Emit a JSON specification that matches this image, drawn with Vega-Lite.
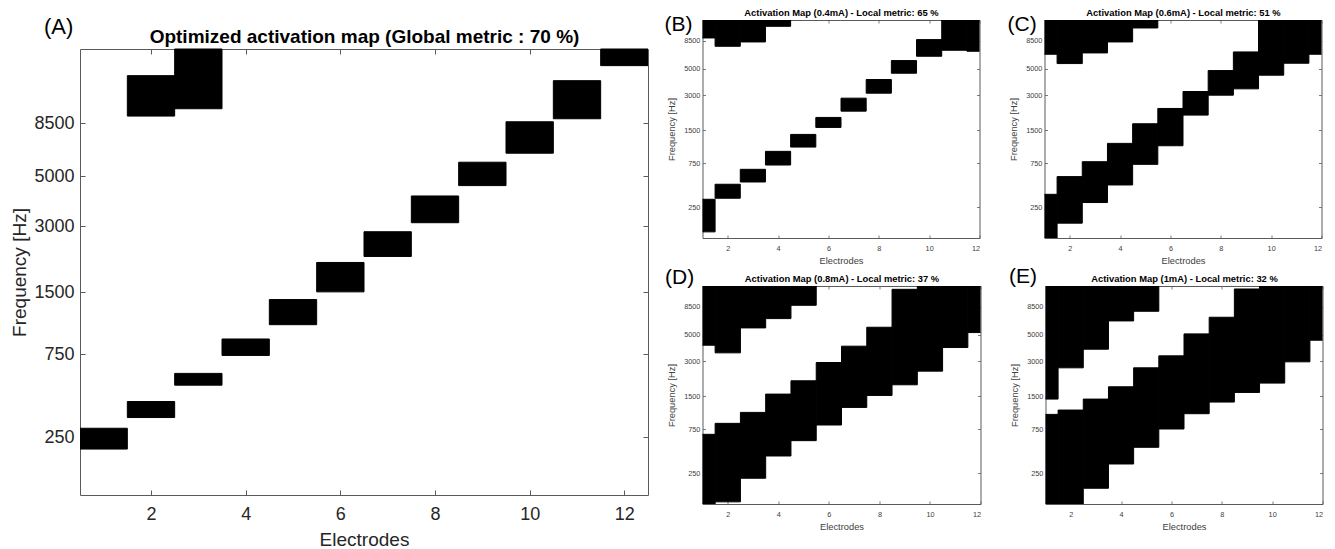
{
  "$schema": "https://vega.github.io/schema/vega-lite/v6.json",
  "background": "white",
  "padding": {"left": 10, "top": 7, "right": 5, "bottom": 0},
  "config": {
    "font": "Liberation Sans",
    "view": {"stroke": "#5a5a5a", "strokeWidth": 1},
    "axis": {"domain": false, "grid": false, "ticks": true, "tickColor": "#5a5a5a", "tickWidth": 1, "labelColor": "#262626", "titleColor": "#262626", "titleFontWeight": "normal", "labelFont": "Liberation Sans", "titleFont": "Liberation Sans", "zindex": 1},
    "title": {"font": "Liberation Sans", "fontWeight": "normal", "color": "#000000", "anchor": "start", "frame": "group", "offset": 0, "baseline": "alphabetic"}
  },
  "datasets": {
    "A": [
      {"electrode": 1, "eStart": 0.5, "eEnd": 1.5, "fLow": 207, "fHigh": 287, "zone": "diagonal"},
      {"electrode": 2, "eStart": 1.5, "eEnd": 2.5, "fLow": 335, "fHigh": 417, "zone": "diagonal"},
      {"electrode": 3, "eStart": 2.5, "eEnd": 3.5, "fLow": 515, "fHigh": 596, "zone": "diagonal"},
      {"electrode": 4, "eStart": 3.5, "eEnd": 4.5, "fLow": 739, "fHigh": 894, "zone": "diagonal"},
      {"electrode": 5, "eStart": 4.5, "eEnd": 5.5, "fLow": 1051, "fHigh": 1386, "zone": "diagonal"},
      {"electrode": 6, "eStart": 5.5, "eEnd": 6.5, "fLow": 1506, "fHigh": 2059, "zone": "diagonal"},
      {"electrode": 7, "eStart": 6.5, "eEnd": 7.5, "fLow": 2193, "fHigh": 2836, "zone": "diagonal"},
      {"electrode": 8, "eStart": 7.5, "eEnd": 8.5, "fLow": 3112, "fHigh": 4091, "zone": "diagonal"},
      {"electrode": 9, "eStart": 8.5, "eEnd": 9.5, "fLow": 4545, "fHigh": 5756, "zone": "diagonal"},
      {"electrode": 10, "eStart": 9.5, "eEnd": 10.5, "fLow": 6303, "fHigh": 8634, "zone": "diagonal"},
      {"electrode": 11, "eStart": 10.5, "eEnd": 11.5, "fLow": 8898, "fHigh": 13003, "zone": "diagonal"},
      {"electrode": 12, "eStart": 11.5, "eEnd": 12.5, "fLow": 15096, "fHigh": 17800, "zone": "diagonal"},
      {"electrode": 2, "eStart": 1.5, "eEnd": 2.5, "fLow": 9139, "fHigh": 13667, "zone": "wrap"},
      {"electrode": 3, "eStart": 2.5, "eEnd": 3.5, "fLow": 9834, "fHigh": 17800, "zone": "wrap"}
    ],
    "B": [
      {"electrode": 1, "eStart": 0.5, "eEnd": 1.5, "fLow": 106, "fHigh": 314, "zone": "diagonal"},
      {"electrode": 2, "eStart": 1.5, "eEnd": 2.5, "fLow": 323, "fHigh": 461, "zone": "diagonal"},
      {"electrode": 3, "eStart": 2.5, "eEnd": 3.5, "fLow": 487, "fHigh": 654, "zone": "diagonal"},
      {"electrode": 4, "eStart": 3.5, "eEnd": 4.5, "fLow": 720, "fHigh": 969, "zone": "diagonal"},
      {"electrode": 5, "eStart": 4.5, "eEnd": 5.5, "fLow": 1061, "fHigh": 1379, "zone": "diagonal"},
      {"electrode": 6, "eStart": 5.5, "eEnd": 6.5, "fLow": 1589, "fHigh": 1941, "zone": "diagonal"},
      {"electrode": 7, "eStart": 6.5, "eEnd": 7.5, "fLow": 2199, "fHigh": 2835, "zone": "diagonal"},
      {"electrode": 8, "eStart": 7.5, "eEnd": 8.5, "fLow": 3123, "fHigh": 4061, "zone": "diagonal"},
      {"electrode": 9, "eStart": 8.5, "eEnd": 9.5, "fLow": 4582, "fHigh": 5826, "zone": "diagonal"},
      {"electrode": 10, "eStart": 9.5, "eEnd": 10.5, "fLow": 6324, "fHigh": 8653, "zone": "diagonal"},
      {"electrode": 11, "eStart": 10.5, "eEnd": 11.5, "fLow": 7081, "fHigh": 12500, "zone": "diagonal"},
      {"electrode": 12, "eStart": 11.5, "eEnd": 12.5, "fLow": 6948, "fHigh": 12500, "zone": "diagonal"},
      {"electrode": 1, "eStart": 0.5, "eEnd": 1.5, "fLow": 8927, "fHigh": 12500, "zone": "wrap"},
      {"electrode": 2, "eStart": 1.5, "eEnd": 2.5, "fLow": 7634, "fHigh": 12500, "zone": "wrap"},
      {"electrode": 3, "eStart": 2.5, "eEnd": 3.5, "fLow": 8282, "fHigh": 12500, "zone": "wrap"},
      {"electrode": 4, "eStart": 3.5, "eEnd": 4.5, "fLow": 11107, "fHigh": 12500, "zone": "wrap"}
    ],
    "C": [
      {"electrode": 1, "eStart": 0.5, "eEnd": 1.5, "fLow": 79, "fHigh": 358, "zone": "diagonal"},
      {"electrode": 2, "eStart": 1.5, "eEnd": 2.5, "fLow": 150, "fHigh": 553, "zone": "diagonal"},
      {"electrode": 3, "eStart": 2.5, "eEnd": 3.5, "fLow": 287, "fHigh": 775, "zone": "diagonal"},
      {"electrode": 4, "eStart": 3.5, "eEnd": 4.5, "fLow": 453, "fHigh": 1146, "zone": "diagonal"},
      {"electrode": 5, "eStart": 4.5, "eEnd": 5.5, "fLow": 731, "fHigh": 1711, "zone": "diagonal"},
      {"electrode": 6, "eStart": 5.5, "eEnd": 6.5, "fLow": 1091, "fHigh": 2318, "zone": "diagonal"},
      {"electrode": 7, "eStart": 6.5, "eEnd": 7.5, "fLow": 2033, "fHigh": 3225, "zone": "diagonal"},
      {"electrode": 8, "eStart": 7.5, "eEnd": 8.5, "fLow": 3005, "fHigh": 4820, "zone": "diagonal"},
      {"electrode": 9, "eStart": 8.5, "eEnd": 9.5, "fLow": 3395, "fHigh": 6861, "zone": "diagonal"},
      {"electrode": 10, "eStart": 9.5, "eEnd": 10.5, "fLow": 4411, "fHigh": 12500, "zone": "diagonal"},
      {"electrode": 11, "eStart": 10.5, "eEnd": 11.5, "fLow": 5540, "fHigh": 12500, "zone": "diagonal"},
      {"electrode": 12, "eStart": 11.5, "eEnd": 12.5, "fLow": 6566, "fHigh": 12500, "zone": "diagonal"},
      {"electrode": 1, "eStart": 0.5, "eEnd": 1.5, "fLow": 6566, "fHigh": 12500, "zone": "wrap"},
      {"electrode": 2, "eStart": 1.5, "eEnd": 2.5, "fLow": 5505, "fHigh": 12500, "zone": "wrap"},
      {"electrode": 3, "eStart": 2.5, "eEnd": 3.5, "fLow": 6733, "fHigh": 12500, "zone": "wrap"},
      {"electrode": 4, "eStart": 3.5, "eEnd": 4.5, "fLow": 8282, "fHigh": 12500, "zone": "wrap"},
      {"electrode": 5, "eStart": 4.5, "eEnd": 5.5, "fLow": 10766, "fHigh": 12500, "zone": "wrap"}
    ],
    "D": [
      {"electrode": 1, "eStart": 0.5, "eEnd": 1.5, "fLow": 79, "fHigh": 669, "zone": "diagonal"},
      {"electrode": 2, "eStart": 1.5, "eEnd": 2.5, "fLow": 88, "fHigh": 852, "zone": "diagonal"},
      {"electrode": 3, "eStart": 2.5, "eEnd": 3.5, "fLow": 216, "fHigh": 1076, "zone": "diagonal"},
      {"electrode": 4, "eStart": 3.5, "eEnd": 4.5, "fLow": 400, "fHigh": 1568, "zone": "diagonal"},
      {"electrode": 5, "eStart": 4.5, "eEnd": 5.5, "fLow": 579, "fHigh": 2046, "zone": "diagonal"},
      {"electrode": 6, "eStart": 5.5, "eEnd": 6.5, "fLow": 822, "fHigh": 2928, "zone": "diagonal"},
      {"electrode": 7, "eStart": 6.5, "eEnd": 7.5, "fLow": 1194, "fHigh": 4010, "zone": "diagonal"},
      {"electrode": 8, "eStart": 7.5, "eEnd": 8.5, "fLow": 1526, "fHigh": 5753, "zone": "diagonal"},
      {"electrode": 9, "eStart": 8.5, "eEnd": 9.5, "fLow": 1890, "fHigh": 11747, "zone": "diagonal"},
      {"electrode": 10, "eStart": 9.5, "eEnd": 10.5, "fLow": 2474, "fHigh": 12500, "zone": "diagonal"},
      {"electrode": 11, "eStart": 10.5, "eEnd": 11.5, "fLow": 3909, "fHigh": 12500, "zone": "diagonal"},
      {"electrode": 12, "eStart": 11.5, "eEnd": 12.5, "fLow": 5201, "fHigh": 12500, "zone": "diagonal"},
      {"electrode": 1, "eStart": 0.5, "eEnd": 1.5, "fLow": 4087, "fHigh": 12500, "zone": "wrap"},
      {"electrode": 2, "eStart": 1.5, "eEnd": 2.5, "fLow": 3528, "fHigh": 12500, "zone": "wrap"},
      {"electrode": 3, "eStart": 2.5, "eEnd": 3.5, "fLow": 5681, "fHigh": 12500, "zone": "wrap"},
      {"electrode": 4, "eStart": 3.5, "eEnd": 4.5, "fLow": 6775, "fHigh": 12500, "zone": "wrap"},
      {"electrode": 5, "eStart": 4.5, "eEnd": 5.5, "fLow": 8706, "fHigh": 12500, "zone": "wrap"}
    ],
    "E": [
      {"electrode": 1, "eStart": 0.5, "eEnd": 1.5, "fLow": 79, "fHigh": 1032, "zone": "diagonal"},
      {"electrode": 2, "eStart": 1.5, "eEnd": 2.5, "fLow": 79, "fHigh": 1130, "zone": "diagonal"},
      {"electrode": 3, "eStart": 2.5, "eEnd": 3.5, "fLow": 155, "fHigh": 1417, "zone": "diagonal"},
      {"electrode": 4, "eStart": 3.5, "eEnd": 4.5, "fLow": 325, "fHigh": 1816, "zone": "diagonal"},
      {"electrode": 5, "eStart": 4.5, "eEnd": 5.5, "fLow": 495, "fHigh": 2640, "zone": "diagonal"},
      {"electrode": 6, "eStart": 5.5, "eEnd": 6.5, "fLow": 753, "fHigh": 3330, "zone": "diagonal"},
      {"electrode": 7, "eStart": 6.5, "eEnd": 7.5, "fLow": 1047, "fHigh": 5071, "zone": "diagonal"},
      {"electrode": 8, "eStart": 7.5, "eEnd": 8.5, "fLow": 1333, "fHigh": 6948, "zone": "diagonal"},
      {"electrode": 9, "eStart": 8.5, "eEnd": 9.5, "fLow": 1621, "fHigh": 11822, "zone": "diagonal"},
      {"electrode": 10, "eStart": 9.5, "eEnd": 10.5, "fLow": 1954, "fHigh": 12500, "zone": "diagonal"},
      {"electrode": 11, "eStart": 10.5, "eEnd": 11.5, "fLow": 2966, "fHigh": 12500, "zone": "diagonal"},
      {"electrode": 12, "eStart": 11.5, "eEnd": 12.5, "fLow": 4496, "fHigh": 12500, "zone": "diagonal"},
      {"electrode": 1, "eStart": 0.5, "eEnd": 1.5, "fLow": 1417, "fHigh": 12500, "zone": "wrap"},
      {"electrode": 2, "eStart": 1.5, "eEnd": 2.5, "fLow": 2640, "fHigh": 12500, "zone": "wrap"},
      {"electrode": 3, "eStart": 2.5, "eEnd": 3.5, "fLow": 3785, "fHigh": 12500, "zone": "wrap"},
      {"electrode": 4, "eStart": 3.5, "eEnd": 4.5, "fLow": 6484, "fHigh": 12500, "zone": "wrap"},
      {"electrode": 5, "eStart": 4.5, "eEnd": 5.5, "fLow": 7780, "fHigh": 12500, "zone": "wrap"}
    ]
  },
  "spacing": 14.5,
  "hconcat": [
    {
      "title": {"text": "(A)", "fontSize": 22, "dx": -36, "dy": 22.5},
      "width": 568,
      "height": 475,
      "view": {"stroke": null},
      "layer": [
        {
          "data": {"name": "A"},
          "transform": [{"filter": "datum.zone === 'diagonal'"}],
          "mark": {"type": "rect", "color": "black", "stroke": "black", "strokeWidth": 1, "clip": true},
          "encoding": {
            "x": {"field": "eStart", "type": "quantitative", "scale": {"domain": [0.5, 12.5], "nice": false, "zero": false},
              "axis": {"orient": "bottom", "values": [2, 4, 6, 8, 10, 12], "title": "Electrodes", "domain": true, "domainColor": "#5a5a5a", "tickSize": -5, "labelPadding": 15, "labelFontSize": 18, "titleFontSize": 19, "titlePadding": 7}},
            "x2": {"field": "eEnd"},
            "y": {"field": "fLow", "type": "quantitative", "scale": {"type": "symlog", "constant": 145.55, "domain": [79, 17800], "range": [475, 29], "nice": false, "zero": false},
              "axis": {"orient": "left", "values": [250, 750, 1500, 3000, 5000, 8500], "format": "d", "title": "Frequency [Hz]", "domain": true, "domainColor": "#5a5a5a", "tickSize": -5, "labelPadding": 11, "labelFontSize": 18, "titleFontSize": 19, "titlePadding": 4.5}},
            "y2": {"field": "fHigh"}
          }
        },
        {
          "data": {"name": "A"},
          "transform": [{"filter": "datum.zone === 'wrap'"}],
          "mark": {"type": "rect", "color": "black", "stroke": "black", "strokeWidth": 1, "clip": true},
          "encoding": {
            "x": {"field": "eStart", "type": "quantitative", "scale": {"domain": [0.5, 12.5], "nice": false, "zero": false},
              "axis": {"orient": "top", "offset": -29, "values": [2, 4, 6, 8, 10, 12], "labels": false, "domain": true, "domainColor": "#5a5a5a", "tickSize": -5, "title": "Optimized activation map (Global metric : 70 %)", "titleFontSize": 19, "titleFontWeight": "bold", "titleColor": "#000000", "titlePadding": 2}},
            "x2": {"field": "eEnd"},
            "y": {"field": "fLow", "type": "quantitative", "scale": {"type": "symlog", "constant": 145.55, "domain": [79, 17800], "range": [475, 29], "nice": false, "zero": false},
              "axis": {"orient": "right", "values": [250, 750, 1500, 3000, 5000, 8500], "labels": false, "domain": true, "domainColor": "#5a5a5a", "tickSize": -5, "title": null}},
            "y2": {"field": "fHigh"}
          }
        }
      ],
      "resolve": {"axis": {"x": "independent", "y": "independent"}}
    },
    {
      "spacing": -2,
      "vconcat": [
        {
          "spacing": 26,
          "hconcat": [
            {
              "title": {"text": "(B)", "fontSize": 21, "dx": -38, "dy": 31},
              "width": 277,
              "height": 218,
              "layer": [
                {
                  "data": {"name": "B"},
                  "transform": [{"filter": "datum.zone === 'diagonal'"}],
                  "mark": {"type": "rect", "color": "black", "stroke": "black", "strokeWidth": 1, "clip": true},
                  "encoding": {
                    "x": {"field": "eStart", "type": "quantitative", "scale": {"domain": [1, 12], "nice": false, "zero": false},
                      "axis": {"orient": "bottom", "values": [2, 4, 6, 8, 10, 12], "title": "Electrodes", "tickSize": -3, "tickWidth": 0.8, "labelPadding": 9, "labelFontSize": 7.3, "titleFontSize": 9.3, "titlePadding": 5, "labelColor": "#404040", "titleColor": "#404040"}},
                    "x2": {"field": "eEnd"},
                    "y": {"field": "fLow", "type": "quantitative", "scale": {"type": "symlog", "constant": 145.55, "domain": [79, 12500], "nice": false, "zero": false},
                      "axis": {"orient": "left", "values": [250, 750, 1500, 3000, 5000, 8500], "format": "d", "title": "Frequency [Hz]", "tickSize": -3, "tickWidth": 0.8, "labelPadding": 5.6, "labelFontSize": 7.3, "titleFontSize": 9.3, "titlePadding": 7, "labelColor": "#404040", "titleColor": "#404040"}},
                    "y2": {"field": "fHigh"}
                  }
                },
                {
                  "data": {"name": "B"},
                  "transform": [{"filter": "datum.zone === 'wrap'"}],
                  "mark": {"type": "rect", "color": "black", "stroke": "black", "strokeWidth": 1, "clip": true},
                  "encoding": {
                    "x": {"field": "eStart", "type": "quantitative", "scale": {"domain": [1, 12], "nice": false, "zero": false},
                      "axis": {"orient": "top", "values": [2, 4, 6, 8, 10, 12], "labels": false, "tickSize": -3, "tickWidth": 0.8, "title": "Activation Map (0.4mA) - Local metric: 65 %", "titleFontSize": 9.4, "titleFontWeight": "bold", "titleColor": "#000000", "titlePadding": 2}},
                    "x2": {"field": "eEnd"},
                    "y": {"field": "fLow", "type": "quantitative", "scale": {"type": "symlog", "constant": 145.55, "domain": [79, 12500], "nice": false, "zero": false},
                      "axis": {"orient": "right", "values": [250, 750, 1500, 3000, 5000, 8500], "labels": false, "tickSize": -3, "tickWidth": 0.8, "title": null}},
                    "y2": {"field": "fHigh"}
                  }
                }
              ],
              "resolve": {"axis": {"x": "independent", "y": "independent"}}
            },
            {
              "title": {"text": "(C)", "fontSize": 21, "dx": -37, "dy": 31},
              "width": 277,
              "height": 218,
              "layer": [
                {
                  "data": {"name": "C"},
                  "transform": [{"filter": "datum.zone === 'diagonal'"}],
                  "mark": {"type": "rect", "color": "black", "stroke": "black", "strokeWidth": 1, "clip": true},
                  "encoding": {
                    "x": {"field": "eStart", "type": "quantitative", "scale": {"domain": [1, 12], "nice": false, "zero": false},
                      "axis": {"orient": "bottom", "values": [2, 4, 6, 8, 10, 12], "title": "Electrodes", "tickSize": -3, "tickWidth": 0.8, "labelPadding": 9, "labelFontSize": 7.3, "titleFontSize": 9.3, "titlePadding": 5, "labelColor": "#404040", "titleColor": "#404040"}},
                    "x2": {"field": "eEnd"},
                    "y": {"field": "fLow", "type": "quantitative", "scale": {"type": "symlog", "constant": 145.55, "domain": [79, 12500], "nice": false, "zero": false},
                      "axis": {"orient": "left", "values": [250, 750, 1500, 3000, 5000, 8500], "format": "d", "title": "Frequency [Hz]", "tickSize": -3, "tickWidth": 0.8, "labelPadding": 5.6, "labelFontSize": 7.3, "titleFontSize": 9.3, "titlePadding": 7, "labelColor": "#404040", "titleColor": "#404040"}},
                    "y2": {"field": "fHigh"}
                  }
                },
                {
                  "data": {"name": "C"},
                  "transform": [{"filter": "datum.zone === 'wrap'"}],
                  "mark": {"type": "rect", "color": "black", "stroke": "black", "strokeWidth": 1, "clip": true},
                  "encoding": {
                    "x": {"field": "eStart", "type": "quantitative", "scale": {"domain": [1, 12], "nice": false, "zero": false},
                      "axis": {"orient": "top", "values": [2, 4, 6, 8, 10, 12], "labels": false, "tickSize": -3, "tickWidth": 0.8, "title": "Activation Map (0.6mA) - Local metric: 51 %", "titleFontSize": 9.4, "titleFontWeight": "bold", "titleColor": "#000000", "titlePadding": 2}},
                    "x2": {"field": "eEnd"},
                    "y": {"field": "fLow", "type": "quantitative", "scale": {"type": "symlog", "constant": 145.55, "domain": [79, 12500], "nice": false, "zero": false},
                      "axis": {"orient": "right", "values": [250, 750, 1500, 3000, 5000, 8500], "labels": false, "tickSize": -3, "tickWidth": 0.8, "title": null}},
                    "y2": {"field": "fHigh"}
                  }
                }
              ],
              "resolve": {"axis": {"x": "independent", "y": "independent"}}
            }
          ]
        },
        {
          "spacing": 27,
          "hconcat": [
            {
              "title": {"text": "(D)", "fontSize": 21, "dx": -37.5, "dy": 18},
              "width": 278,
              "height": 218,
              "layer": [
                {
                  "data": {"name": "D"},
                  "transform": [{"filter": "datum.zone === 'diagonal'"}],
                  "mark": {"type": "rect", "color": "black", "stroke": "black", "strokeWidth": 1, "clip": true},
                  "encoding": {
                    "x": {"field": "eStart", "type": "quantitative", "scale": {"domain": [1, 12], "nice": false, "zero": false},
                      "axis": {"orient": "bottom", "values": [2, 4, 6, 8, 10, 12], "title": "Electrodes", "tickSize": -3, "tickWidth": 0.8, "labelPadding": 9, "labelFontSize": 7.3, "titleFontSize": 9.3, "titlePadding": 5, "labelColor": "#404040", "titleColor": "#404040"}},
                    "x2": {"field": "eEnd"},
                    "y": {"field": "fLow", "type": "quantitative", "scale": {"type": "symlog", "constant": 145.55, "domain": [79, 12500], "nice": false, "zero": false},
                      "axis": {"orient": "left", "values": [250, 750, 1500, 3000, 5000, 8500], "format": "d", "title": "Frequency [Hz]", "tickSize": -3, "tickWidth": 0.8, "labelPadding": 5.6, "labelFontSize": 7.3, "titleFontSize": 9.3, "titlePadding": 7, "labelColor": "#404040", "titleColor": "#404040"}},
                    "y2": {"field": "fHigh"}
                  }
                },
                {
                  "data": {"name": "D"},
                  "transform": [{"filter": "datum.zone === 'wrap'"}],
                  "mark": {"type": "rect", "color": "black", "stroke": "black", "strokeWidth": 1, "clip": true},
                  "encoding": {
                    "x": {"field": "eStart", "type": "quantitative", "scale": {"domain": [1, 12], "nice": false, "zero": false},
                      "axis": {"orient": "top", "values": [2, 4, 6, 8, 10, 12], "labels": false, "tickSize": -3, "tickWidth": 0.8, "title": "Activation Map (0.8mA) - Local metric: 37 %", "titleFontSize": 9.4, "titleFontWeight": "bold", "titleColor": "#000000", "titlePadding": 2}},
                    "x2": {"field": "eEnd"},
                    "y": {"field": "fLow", "type": "quantitative", "scale": {"type": "symlog", "constant": 145.55, "domain": [79, 12500], "nice": false, "zero": false},
                      "axis": {"orient": "right", "values": [250, 750, 1500, 3000, 5000, 8500], "labels": false, "tickSize": -3, "tickWidth": 0.8, "title": null}},
                    "y2": {"field": "fHigh"}
                  }
                }
              ],
              "resolve": {"axis": {"x": "independent", "y": "independent"}}
            },
            {
              "title": {"text": "(E)", "fontSize": 21, "dx": -36.5, "dy": 17},
              "width": 277,
              "height": 218,
              "layer": [
                {
                  "data": {"name": "E"},
                  "transform": [{"filter": "datum.zone === 'diagonal'"}],
                  "mark": {"type": "rect", "color": "black", "stroke": "black", "strokeWidth": 1, "clip": true},
                  "encoding": {
                    "x": {"field": "eStart", "type": "quantitative", "scale": {"domain": [1, 12], "nice": false, "zero": false},
                      "axis": {"orient": "bottom", "values": [2, 4, 6, 8, 10, 12], "title": "Electrodes", "tickSize": -3, "tickWidth": 0.8, "labelPadding": 9, "labelFontSize": 7.3, "titleFontSize": 9.3, "titlePadding": 5, "labelColor": "#404040", "titleColor": "#404040"}},
                    "x2": {"field": "eEnd"},
                    "y": {"field": "fLow", "type": "quantitative", "scale": {"type": "symlog", "constant": 145.55, "domain": [79, 12500], "nice": false, "zero": false},
                      "axis": {"orient": "left", "values": [250, 750, 1500, 3000, 5000, 8500], "format": "d", "title": "Frequency [Hz]", "tickSize": -3, "tickWidth": 0.8, "labelPadding": 5.6, "labelFontSize": 7.3, "titleFontSize": 9.3, "titlePadding": 7, "labelColor": "#404040", "titleColor": "#404040"}},
                    "y2": {"field": "fHigh"}
                  }
                },
                {
                  "data": {"name": "E"},
                  "transform": [{"filter": "datum.zone === 'wrap'"}],
                  "mark": {"type": "rect", "color": "black", "stroke": "black", "strokeWidth": 1, "clip": true},
                  "encoding": {
                    "x": {"field": "eStart", "type": "quantitative", "scale": {"domain": [1, 12], "nice": false, "zero": false},
                      "axis": {"orient": "top", "values": [2, 4, 6, 8, 10, 12], "labels": false, "tickSize": -3, "tickWidth": 0.8, "title": "Activation Map (1mA) - Local metric: 32 %", "titleFontSize": 9.4, "titleFontWeight": "bold", "titleColor": "#000000", "titlePadding": 2}},
                    "x2": {"field": "eEnd"},
                    "y": {"field": "fLow", "type": "quantitative", "scale": {"type": "symlog", "constant": 145.55, "domain": [79, 12500], "nice": false, "zero": false},
                      "axis": {"orient": "right", "values": [250, 750, 1500, 3000, 5000, 8500], "labels": false, "tickSize": -3, "tickWidth": 0.8, "title": null}},
                    "y2": {"field": "fHigh"}
                  }
                }
              ],
              "resolve": {"axis": {"x": "independent", "y": "independent"}}
            }
          ]
        }
      ]
    }
  ]
}
